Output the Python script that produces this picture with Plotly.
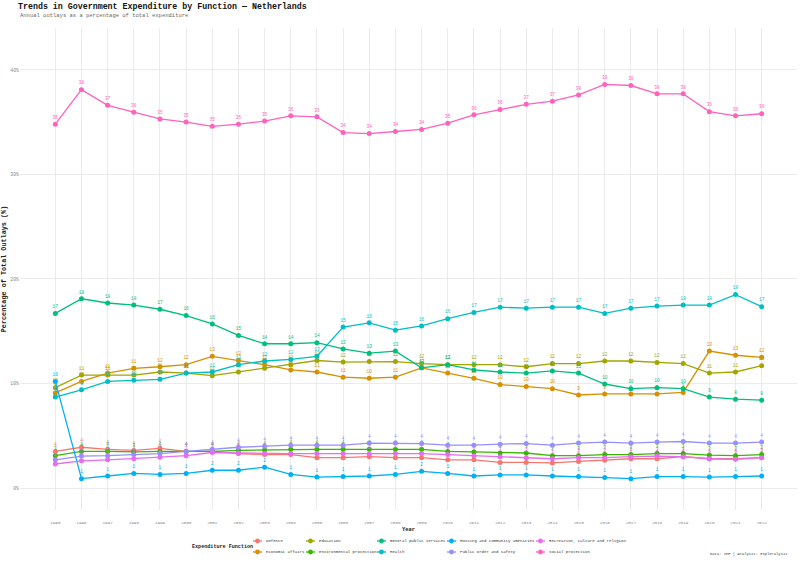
import plotly.graph_objects as go

years = list(range(1995, 2023))

defence = [3.5, 3.9, 3.7, 3.6, 3.8, 3.5, 3.5, 3.3, 3.2, 3.2, 2.9, 2.9, 3.0, 2.9, 2.9,
           2.7, 2.7, 2.45, 2.45, 2.4, 2.55, 2.65, 2.8, 2.8, 3.0, 2.8, 2.8, 2.9]
economic_affairs = [9.1, 10.2, 11.0, 11.45, 11.6, 11.8, 12.6, 12.2, 11.8, 11.3, 11.1, 10.6, 10.5, 10.6, 11.5,
                    11.0, 10.5, 9.9, 9.7, 9.5, 8.9, 9.0, 9.0, 9.0, 9.15, 13.1, 12.7, 12.5]
education = [9.6, 10.8, 10.8, 10.8, 11.1, 11.0, 10.75, 11.1, 11.45, 11.8, 12.2, 12.05, 12.1, 12.1, 11.9,
             11.8, 11.8, 11.8, 11.6, 11.9, 11.9, 12.15, 12.15, 12.0, 11.9, 11.0, 11.1, 11.7]
environmental = [3.1, 3.5, 3.5, 3.45, 3.5, 3.5, 3.5, 3.6, 3.65, 3.7, 3.7, 3.7, 3.7, 3.7, 3.7,
                 3.5, 3.45, 3.35, 3.35, 3.1, 3.1, 3.2, 3.2, 3.3, 3.3, 3.15, 3.1, 3.2]
general_public = [16.7, 18.1, 17.7, 17.5, 17.1, 16.5, 15.7, 14.6, 13.8, 13.8, 13.9, 13.3, 12.9, 13.1, 11.5,
                  11.8, 11.3, 11.1, 11.0, 11.2, 11.0, 9.95, 9.5, 9.6, 9.5, 8.7, 8.5, 8.4]
health = [8.7, 9.4, 10.2, 10.3, 10.4, 11.0, 11.1, 11.8, 12.15, 12.3, 12.6, 15.4, 15.8, 15.1, 15.5,
          16.2, 16.8, 17.3, 17.2, 17.3, 17.3, 16.7, 17.2, 17.4, 17.5, 17.5, 18.5, 17.35]
housing = [10.2, 0.9, 1.15, 1.4, 1.3, 1.4, 1.7, 1.7, 2.0, 1.3, 1.05, 1.1, 1.15, 1.3, 1.6,
           1.4, 1.15, 1.25, 1.25, 1.15, 1.1, 1.0, 0.9, 1.1, 1.1, 1.05, 1.1, 1.15]
public_order = [2.7, 3.06, 3.1, 3.2, 3.3, 3.5, 3.7, 3.9, 4.0, 4.1, 4.1, 4.1, 4.3, 4.3, 4.25,
                4.1, 4.1, 4.2, 4.25, 4.1, 4.3, 4.4, 4.3, 4.4, 4.45, 4.3, 4.3, 4.4]
recreation = [2.3, 2.6, 2.7, 2.8, 2.95, 3.1, 3.4, 3.35, 3.3, 3.3, 3.3, 3.3, 3.25, 3.3, 3.3,
              3.2, 3.1, 3.0, 2.9, 2.8, 2.9, 2.9, 3.0, 3.06, 3.0, 2.8, 2.75, 2.9]
social_protection = [34.8, 38.1, 36.6, 35.95, 35.3, 35.0, 34.6, 34.8, 35.1, 35.6, 35.5, 34.0, 33.9, 34.1, 34.3,
                     34.9, 35.7, 36.2, 36.7, 37.0, 37.6, 38.6, 38.5, 37.7, 37.7, 36.0, 35.6, 35.8]

series_names = ["Defence", "Economic affairs", "Education", "Environmental protection",
                "General public services", "Health", "Housing and community amenities",
                "Public order and safety", "Recreation, culture and religion", "Social protection"]
series_values = [defence, economic_affairs, education, environmental, general_public, health,
                 housing, public_order, recreation, social_protection]
colors = ["#F8766D", "#D89000", "#A3A500", "#39B600", "#00BF7D", "#00BFC4",
          "#00B0F6", "#9590FF", "#E76BF3", "#FF62BC"]

y_ticks = [0, 10, 20, 30, 40]
y_tick_labels = ["0%", "10%", "20%", "30%", "40%"]

FONT = "Liberation Mono"
W, H = 800, 567
L, R, T, B = 20, 3, 28, 57
pw, ph = W - L - R, H - T - B


def px_x(p):
    return (p - L) / pw


def px_y(p):
    return (H - B - p) / ph


fig = go.Figure()

for name, vals, col in zip(series_names, series_values, colors):
    fig.add_trace(go.Scatter(
        x=years, y=vals, name=name, mode="lines+markers+text",
        line=dict(color=col, width=1.3),
        marker=dict(color=col, size=5),
        text=[f"{v:.0f}" for v in vals],
        textposition="top center",
        textfont=dict(family=FONT, size=4.5, color=col),
        showlegend=False,
        cliponaxis=False,
    ))

fig.update_layout(
    width=W, height=H,
    margin=dict(l=L, r=R, t=T, b=B),
    paper_bgcolor="white", plot_bgcolor="white",
    font=dict(family=FONT, color="#333333"),
    title=dict(
        text="<b>Trends in Government Expenditure by Function — Netherlands</b>",
        x=18 / W, xanchor="left", xref="container",
        y=1 - 6.5 / H, yanchor="middle", yref="container",
        font=dict(family=FONT, size=8.3, color="#111111"),
    ),
    xaxis=dict(
        range=[1993.65, 2023.35], tickmode="array", tickvals=years,
        ticktext=[str(y) for y in years],
        showgrid=True, gridcolor="#ebebeb", gridwidth=0.6,
        zeroline=False, showline=False, ticks="", ticklabelstandoff=9,
        tickfont=dict(family=FONT, size=4.3, color="#888888"),
        title=dict(text="<b>Year</b>", font=dict(family=FONT, size=5.5, color="#222222"), standoff=2),
    ),
    yaxis=dict(
        range=[-2.1, 44.0], tickmode="array", tickvals=y_ticks, ticktext=y_tick_labels,
        showgrid=True, gridcolor="#ebebeb", gridwidth=0.6,
        zeroline=False, showline=False, ticks="",
        tickfont=dict(family=FONT, size=4.8, color="#888888"),
        title=dict(text="<b>Percentage of Total Outlays (%)</b>",
                   font=dict(family=FONT, size=6.8, color="#222222"), standoff=4),
    ),
    showlegend=False,
)

# Legend (ggplot-style, two rows filled column by column)
text_x = [264, 264, 317, 317, 388, 388, 458, 458, 547, 547]
row_y = [541, 552, 541, 552, 541, 552, 541, 552, 541, 552]
for name, col, tx, ry in zip(series_names, colors, text_x, row_y):
    cx = tx - 6.5
    fig.add_shape(type="line", xref="paper", yref="paper",
                  x0=px_x(cx - 4.5), x1=px_x(cx + 4.5), y0=px_y(ry), y1=px_y(ry),
                  line=dict(color=col, width=1.3))
    fig.add_shape(type="circle", xref="paper", yref="paper",
                  x0=px_x(cx - 2.4), x1=px_x(cx + 2.4), y0=px_y(ry - 2.4), y1=px_y(ry + 2.4),
                  fillcolor=col, line=dict(color=col, width=0))
    fig.add_annotation(text=name, xref="paper", yref="paper", x=px_x(tx), y=px_y(ry),
                       xanchor="left", yanchor="middle", showarrow=False,
                       font=dict(family=FONT, size=4.0, color="#333333"))

fig.add_annotation(
    text="Annual outlays as a percentage of total expenditure",
    xref="paper", yref="paper", x=px_x(18), y=px_y(15), xanchor="left", yanchor="middle",
    showarrow=False, font=dict(family=FONT, size=5.5, color="#666666"),
)
fig.add_annotation(
    text="<b>Expenditure Function</b>",
    xref="paper", yref="paper", x=px_x(190), y=px_y(546.5), xanchor="left", yanchor="middle",
    showarrow=False, font=dict(family=FONT, size=5.1, color="#222222"),
)
fig.add_annotation(
    text="Data: IMF | Analysis: Exploralysis",
    xref="paper", yref="paper", x=px_x(789), y=px_y(554), xanchor="right", yanchor="middle",
    showarrow=False, font=dict(family=FONT, size=3.8, color="#444444"),
)

fig.write_html("out.html")
